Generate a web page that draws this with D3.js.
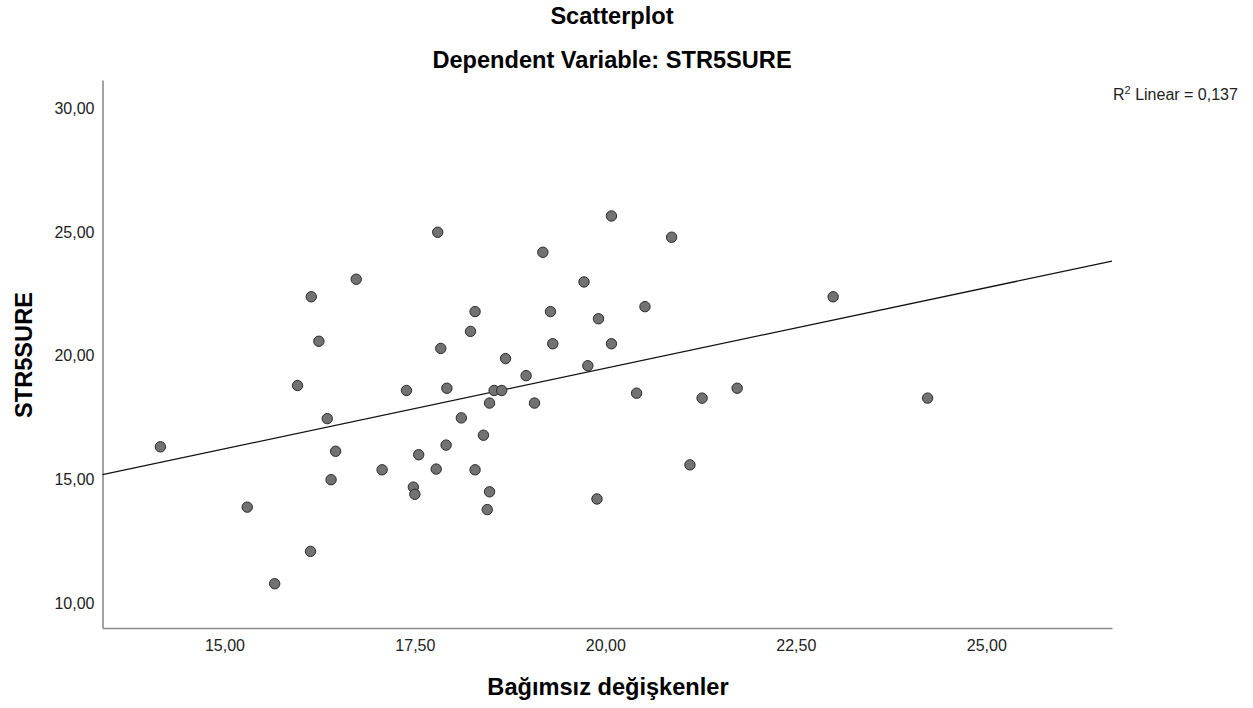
<!DOCTYPE html>
<html>
<head>
<meta charset="utf-8">
<script src="https://cdn.jsdelivr.net/npm/d3@7"></script>
<style>
    body { margin: 0; background: #fff; }
    svg { display: block; font-family: Arial, "Liberation Sans", sans-serif; }
</style>
</head>
<body>
<svg id="chart"></svg>
<script>
// values (Bağımsız değişkenler vs STR5SURE)
const xValues = [14.16, 15.30, 15.66, 16.13, 15.96, 16.14, 16.24, 16.35, 16.40, 16.46,
    16.73, 17.07, 17.39, 17.48, 17.50, 17.55, 17.78, 17.80, 17.84, 17.91,
    17.92, 18.11, 18.23, 18.29, 18.29, 18.40, 18.45, 18.48, 18.48, 18.54,
    18.64, 18.69, 18.96, 19.07, 19.18, 19.28, 19.31, 19.72, 19.77, 19.89,
    19.91, 20.08, 20.08, 20.41, 20.52, 20.87, 21.11, 21.27, 21.73, 22.99, 24.23];
const yValues = [16.32, 13.88, 10.78, 12.09, 18.80, 22.39, 20.59, 17.46, 14.99, 16.14,
    23.10, 15.39, 18.60, 14.69, 14.40, 16.00, 15.42, 25.00, 20.30, 16.39,
    18.69, 17.49, 20.99, 21.79, 15.39, 16.79, 13.78, 18.09, 14.50, 18.60,
    18.60, 19.89, 19.20, 18.09, 24.19, 21.79, 20.49, 22.99, 19.60, 14.21,
    21.50, 25.66, 20.49, 18.49, 21.99, 24.80, 15.59, 18.29, 18.69, 22.39, 18.29];
const xTicks = [15, 17.5, 20, 22.5, 25];
const yTicks = [10, 15, 20, 25, 30];
const xDomain = [13.40, 26.65];
const yDomain = [8.99, 31.16];
const r2Text = "0,137";

const width = 1253;
const height = 708;
const margin = { top: 80, right: 141, bottom: 80, left: 102.5 };

const svg = d3.select("#chart")
    .attr("width", width)
    .attr("height", height);

const x = d3.scaleLinear().domain(xDomain).range([margin.left, width - margin.right]);
const y = d3.scaleLinear().domain(yDomain).range([height - margin.bottom, margin.top]);

// comma as decimal separator like the SPSS output
const trLocale = d3.formatLocale({ decimal: ",", thousands: ".", grouping: [3], currency: ["", ""] });
const fmt = trLocale.format(".2f");

const data = xValues.map((v, i) => ({ x: v, y: yValues[i] }));

// axes
const xAxis = svg.append("g")
    .attr("transform", `translate(0,${height - margin.bottom})`)
    .call(d3.axisBottom(x).tickValues(xTicks).tickFormat(fmt).tickSize(0).tickPadding(12));

const yAxis = svg.append("g")
    .attr("transform", `translate(${margin.left},0)`)
    .call(d3.axisLeft(y).tickValues(yTicks).tickFormat(fmt).tickSize(0).tickPadding(8));

[xAxis, yAxis].forEach(a => {
    a.select(".domain").attr("stroke", "#8c8c8c").attr("stroke-width", 1.6);
    a.selectAll("text")
        .attr("font-size", 16)
        .attr("font-family", "Arial, 'Liberation Sans', sans-serif")
        .attr("fill", "#222");
});

// least squares fit line
const mx = d3.mean(xValues);
const my = d3.mean(yValues);
const slope = d3.sum(data, d => (d.x - mx) * (d.y - my)) / d3.sum(data, d => (d.x - mx) ** 2);
const intercept = my - slope * mx;

svg.append("line")
    .attr("x1", x(xDomain[0]))
    .attr("y1", y(intercept + slope * xDomain[0]))
    .attr("x2", x(xDomain[1]))
    .attr("y2", y(intercept + slope * xDomain[1]))
    .attr("stroke", "#111")
    .attr("stroke-width", 1.3);

// points
svg.append("g")
    .selectAll("circle")
    .data(data)
    .join("circle")
    .attr("cx", d => x(d.x))
    .attr("cy", d => y(d.y))
    .attr("r", 5.2)
    .attr("fill", "#727272")
    .attr("stroke", "#2a2a2a")
    .attr("stroke-width", 1);

// titles
const titleSize = 23.6;

svg.append("text")
    .attr("x", 612)
    .attr("y", 24)
    .attr("text-anchor", "middle")
    .attr("font-size", titleSize)
    .attr("font-weight", "bold")
    .text("Scatterplot");

svg.append("text")
    .attr("x", 612)
    .attr("y", 68)
    .attr("text-anchor", "middle")
    .attr("font-size", titleSize)
    .attr("font-weight", "bold")
    .text("Dependent Variable: STR5SURE");

svg.append("text")
    .attr("x", 608)
    .attr("y", 695)
    .attr("text-anchor", "middle")
    .attr("font-size", titleSize)
    .attr("font-weight", "bold")
    .text("Bağımsız değişkenler");

svg.append("text")
    .attr("transform", `translate(32,355) rotate(-90)`)
    .attr("text-anchor", "middle")
    .attr("font-size", titleSize)
    .attr("font-weight", "bold")
    .text("STR5SURE");

// R² annotation
const r2 = svg.append("text")
    .attr("x", 1113)
    .attr("y", 100)
    .attr("font-size", 16)
    .attr("fill", "#222");
r2.append("tspan").text("R");
r2.append("tspan").attr("font-size", 11).attr("dy", -6).text("2");
r2.append("tspan").attr("dy", 6).text(" Linear = " + r2Text);
</script>
</body>
</html>
